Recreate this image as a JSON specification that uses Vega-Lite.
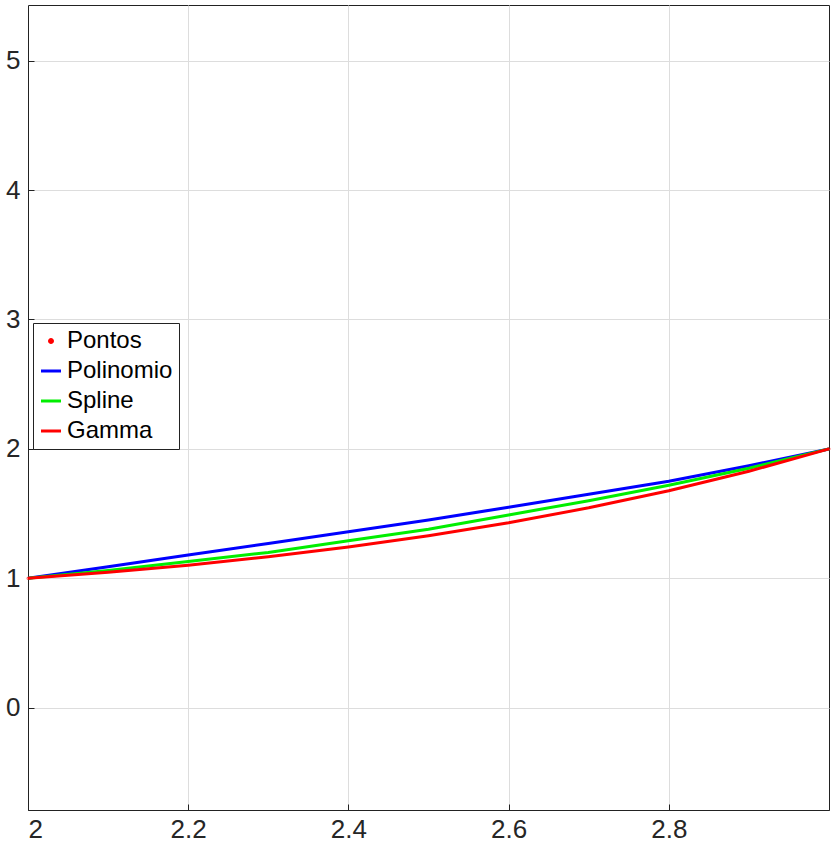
{
  "$schema": "https://vega.github.io/schema/vega-lite/v6.json",
  "width": 840,
  "height": 847,
  "autosize": {"type": "fit", "contains": "padding"},
  "background": "white",
  "config": {
    "view": {"stroke": "#222222", "strokeWidth": 1},
    "axis": {
      "labelFont": "Liberation Sans",
      "labelFontSize": 26,
      "labelColor": "#262626",
      "gridColor": "#dddddd",
      "domainColor": "#222222",
      "tickColor": "#222222",
      "tickSize": -6,
      "title": null
    },
    "legend": {"labelFont": "Liberation Sans", "labelFontSize": 24, "labelColor": "black"}
  },
  "datasets": {
    "curves": [
      {"x": 2.0, "y": 1.0, "s": "Polinomio"}, {"x": 2.1, "y": 1.09, "s": "Polinomio"}, {"x": 2.2, "y": 1.18, "s": "Polinomio"},
      {"x": 2.3, "y": 1.27, "s": "Polinomio"}, {"x": 2.4, "y": 1.36, "s": "Polinomio"}, {"x": 2.5, "y": 1.45, "s": "Polinomio"},
      {"x": 2.6, "y": 1.55, "s": "Polinomio"}, {"x": 2.7, "y": 1.65, "s": "Polinomio"}, {"x": 2.8, "y": 1.75, "s": "Polinomio"},
      {"x": 2.9, "y": 1.87, "s": "Polinomio"}, {"x": 3.0, "y": 2.0, "s": "Polinomio"},
      {"x": 2.0, "y": 1.0, "s": "Spline"}, {"x": 2.1, "y": 1.06, "s": "Spline"}, {"x": 2.2, "y": 1.13, "s": "Spline"},
      {"x": 2.3, "y": 1.2, "s": "Spline"}, {"x": 2.4, "y": 1.29, "s": "Spline"}, {"x": 2.5, "y": 1.38, "s": "Spline"},
      {"x": 2.6, "y": 1.49, "s": "Spline"}, {"x": 2.7, "y": 1.6, "s": "Spline"}, {"x": 2.8, "y": 1.72, "s": "Spline"},
      {"x": 2.9, "y": 1.85, "s": "Spline"}, {"x": 3.0, "y": 2.0, "s": "Spline"},
      {"x": 2.0, "y": 1.0, "s": "Gamma"}, {"x": 2.1, "y": 1.0465, "s": "Gamma"}, {"x": 2.2, "y": 1.1018, "s": "Gamma"},
      {"x": 2.3, "y": 1.1667, "s": "Gamma"}, {"x": 2.4, "y": 1.2422, "s": "Gamma"}, {"x": 2.5, "y": 1.3293, "s": "Gamma"},
      {"x": 2.6, "y": 1.4296, "s": "Gamma"}, {"x": 2.7, "y": 1.5447, "s": "Gamma"}, {"x": 2.8, "y": 1.6765, "s": "Gamma"},
      {"x": 2.9, "y": 1.8274, "s": "Gamma"}, {"x": 3.0, "y": 2.0, "s": "Gamma"}
    ],
    "points": [
      {"x": 2.0, "y": 1.0, "s": "Pontos"},
      {"x": 3.0, "y": 2.0, "s": "Pontos"}
    ]
  },
  "encoding": {
    "x": {
      "field": "x", "type": "quantitative",
      "scale": {"domain": [2, 3], "nice": false, "zero": false},
      "axis": {"values": [2, 2.2, 2.4, 2.6, 2.8], "format": "~g", "labelPadding": 12}
    },
    "y": {
      "field": "y", "type": "quantitative",
      "scale": {"domain": [-0.79, 5.43], "nice": false, "zero": false},
      "axis": {"values": [0, 1, 2, 3, 4, 5], "labelPadding": 14}
    },
    "color": {
      "field": "s", "type": "nominal",
      "scale": {"domain": ["Pontos", "Polinomio", "Spline", "Gamma"], "range": ["#ff0000", "#0000ff", "#00ee00", "#ff0000"]},
      "legend": {
        "title": null, "orient": "none", "legendX": 5, "legendY": 318,
        "fillColor": "white", "strokeColor": "#222222", "padding": 6,
        "symbolSize": 400, "symbolStrokeWidth": 3, "rowPadding": 6
      }
    },
    "shape": {
      "field": "s", "type": "nominal",
      "scale": {"domain": ["Pontos", "Polinomio", "Spline", "Gamma"], "range": ["M-0.15,0A0.15,0.15 0 1,0 0.15,0A0.15,0.15 0 1,0 -0.15,0", "stroke", "stroke", "stroke"]},
      "legend": null
    }
  },
  "layer": [
    {
      "data": {"name": "curves"},
      "mark": {"type": "line", "strokeWidth": 3},
      "encoding": {"detail": {"field": "s"}}
    },
    {
      "data": {"name": "points"},
      "mark": {"type": "point", "filled": false, "size": 40, "strokeWidth": 2}
    }
  ]
}
